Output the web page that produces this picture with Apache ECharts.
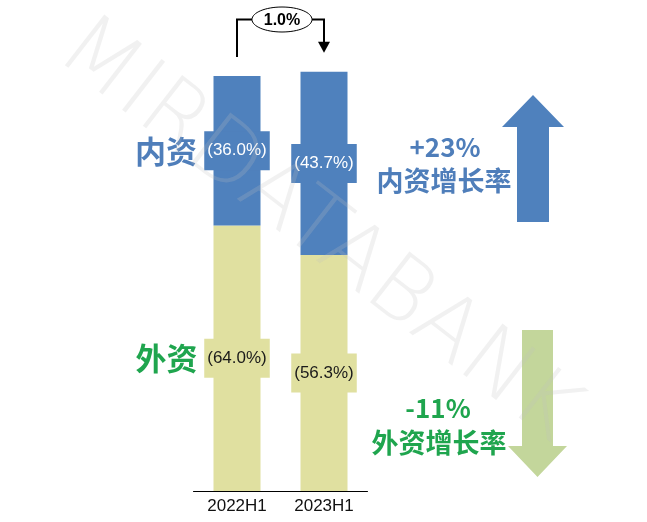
<!DOCTYPE html>
<html><head><meta charset="utf-8">
<script src="https://cdn.jsdelivr.net/npm/echarts@6/dist/echarts.min.js"></script>
<style>html,body{margin:0;padding:0;background:#fff}#c{width:647px;height:522px}</style>
</head><body><div id="c"></div>
<script>
// ---- data ----
const categories = ['2022H1', '2023H1'];
const domesticShare = [36.0, 43.7];   // 内资 占比 %
const foreignShare = [64.0, 56.3];    // 外资 占比 %
const totalIndex = [100, 101];        // 总额指数 (+1.0%)
const totalChangeLabel = '1.0%';
const domesticGrowthLabel = '+23%';
const foreignGrowthLabel = '-11%';
const seriesNames = ['外资', '内资'];

const domesticValues = domesticShare.map((s, i) => s * totalIndex[i] / 100);
const foreignValues = foreignShare.map((s, i) => s * totalIndex[i] / 100);

// ---- styles ----
const BLUE = '#4F81BD', YELLOW = '#E0E0A0', GREEN_ARROW = '#C3D69B';
const TXT_BLUE = '#4F7EBA', TXT_GREEN = '#1FA54E';
const CJK = '"Noto Sans CJK SC", sans-serif';
const LAT = '"Liberation Sans", Arial, sans-serif';

const chart = echarts.init(document.getElementById('c'), null, {renderer: 'canvas'});

const option = {
  animation: false,
  grid: {left: 193.5, right: 279.5, top: 71.85, bottom: 31},
  xAxis: {
    type: 'category', data: categories,
    axisTick: {show: false},
    axisLine: {lineStyle: {color: '#000', width: 1}},
    axisLabel: {color: '#111', fontSize: 17, fontFamily: LAT, margin: 7}
  },
  yAxis: {type: 'value', min: 0, max: 101, show: false},
  series: [
    {
      name: seriesNames[0], type: 'bar', stack: 't', data: foreignValues, barWidth: 47,
      itemStyle: {color: YELLOW},
      label: {
        show: true, position: 'inside',
        formatter: p => '(' + foreignShare[p.dataIndex].toFixed(1) + '%)',
        color: '#1a1a1a', fontSize: 17, fontFamily: LAT,
        backgroundColor: YELLOW, padding: [11, 3]
      }
    },
    {
      name: seriesNames[1], type: 'bar', stack: 't', data: domesticValues, barWidth: 47,
      itemStyle: {color: BLUE},
      label: {
        show: true, position: 'inside',
        formatter: p => '(' + domesticShare[p.dataIndex].toFixed(1) + '%)',
        color: '#fff', fontSize: 17, fontFamily: LAT,
        backgroundColor: BLUE, padding: [11, 3]
      }
    }
  ]
};
chart.setOption(option);

function txt(x, y, text, size, color, weight, family, z) {
  return {
    type: 'text', x: x, y: y, z: z || 10, silent: true,
    style: {
      text: text, fill: color, fontSize: size, fontWeight: weight || 'bold',
      fontFamily: family || CJK,
      textAlign: 'center', textVerticalAlign: 'middle', align: 'center', verticalAlign: 'middle'
    }
  };
}

const p1 = chart.convertToPixel({gridIndex: 0}, [0, totalIndex[0]]);
const p2 = chart.convertToPixel({gridIndex: 0}, [1, totalIndex[1]]);
const by = 19.5, gap = 19;
const ex = (p1[0] + p2[0]) / 2 + 1.5, rx = 30, ry = 12.5;
const line = {stroke: '#000', lineWidth: 2, fill: null};

const graphics = [
  // watermark
  {
    type: 'text', x: 317, y: 232, rotation: -0.66, z: 100, silent: true,
    style: {
      text: 'MIRDATABANK', fontSize: 88, fontFamily: '"DejaVu Sans", sans-serif', fontWeight: 200,
      fill: 'rgba(190,190,190,0.22)',
      textAlign: 'center', textVerticalAlign: 'middle', align: 'center', verticalAlign: 'middle'
    }
  },
  // bracket
  {type: 'polyline', z: 20, shape: {points: [[p1[0], p1[1] - gap], [p1[0], by], [ex - rx, by]]}, style: line},
  {type: 'polyline', z: 20, shape: {points: [[ex + rx, by], [p2[0], by], [p2[0], p2[1] - gap - 10]]}, style: line},
  {type: 'polygon', z: 20, shape: {points: [[p2[0] - 6, p2[1] - gap - 11], [p2[0] + 6, p2[1] - gap - 11], [p2[0], p2[1] - gap]]}, style: {fill: '#000'}},
  {type: 'ellipse', z: 20, shape: {cx: ex, cy: by, rx: rx, ry: ry}, style: {fill: '#fff', stroke: '#000', lineWidth: 1}},
  txt(ex, by + 1, totalChangeLabel, 16, '#000', 'bold', LAT, 21),
  // left labels
  txt(166, 151, seriesNames[1], 31, TXT_BLUE),
  txt(166.5, 358, seriesNames[0], 31, TXT_GREEN),
  // right texts
  txt(445, 147, domesticGrowthLabel, 26, TXT_BLUE),
  txt(444, 181, '内资增长率', 27, TXT_BLUE),
  txt(438, 408, foreignGrowthLabel, 26, TXT_GREEN),
  txt(439, 443, '外资增长率', 27, TXT_GREEN),
  // arrows
  {type: 'polygon', z: 5, shape: {points: [[533, 95], [564, 127], [549, 127], [549, 222], [517, 222], [517, 127], [502, 127]]}, style: {fill: BLUE}},
  {type: 'polygon', z: 5, shape: {points: [[522, 330], [553, 330], [553, 446], [567, 446], [537.5, 477], [508, 446], [522, 446]]}, style: {fill: GREEN_ARROW}}
];
chart.setOption({graphic: {elements: graphics}});
</script>
</body></html>
